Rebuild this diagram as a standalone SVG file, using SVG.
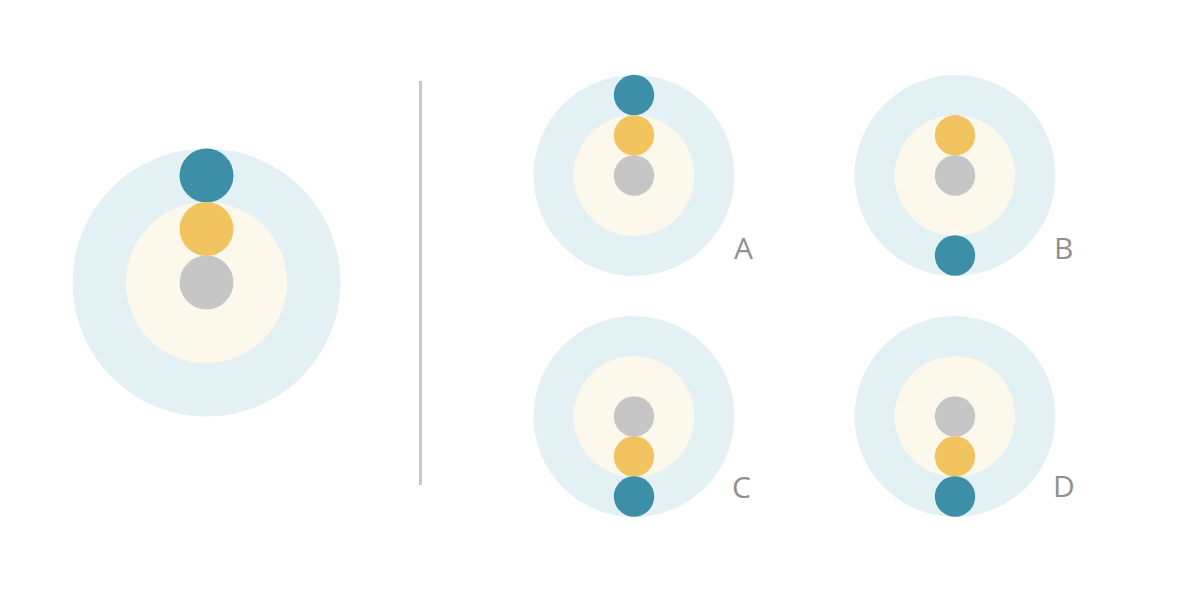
<svg xmlns="http://www.w3.org/2000/svg" width="1192" height="592" viewBox="0 0 1192 592">
  <style>
    .outer { fill: #e3f1f5; }
    .inner { fill: #fcf8ec; }
    .teal { fill: #3d8fa8; }
    .yellow { fill: #f2c45f; }
    .gray { fill: #c6c6c6; }
    .label { font-family: "Open Sans", "Liberation Sans", sans-serif; font-size: 30px; fill: #909090; }
  </style>
  <rect width="1192" height="592" fill="#ffffff"/>
  <g id="main">
    <circle class="outer" cx="206.5" cy="282.5" r="134"/>
    <circle class="inner" cx="206.5" cy="282.5" r="80.5"/>
    <circle class="teal" cx="206.5" cy="175.5" r="27"/>
    <circle class="yellow" cx="206.5" cy="229" r="27"/>
    <circle class="gray" cx="206.5" cy="282.5" r="27"/>
  </g>
  <g id="connectors">
    <line x1="420.5" y1="81" x2="420.5" y2="485" stroke="#c8c8c8" stroke-width="3"/>
  </g>
  <g id="A">
    <circle class="outer" cx="634" cy="175.5" r="100.5"/>
    <circle class="inner" cx="634" cy="175.5" r="60.3"/>
    <circle class="teal" cx="634" cy="95" r="20.2"/>
    <circle class="yellow" cx="634" cy="135.3" r="20.2"/>
    <circle class="gray" cx="634" cy="175.5" r="20.2"/>
    <text class="label" x="734" y="259">A</text>
  </g>
  <g id="B">
    <circle class="outer" cx="955" cy="175.5" r="100.5"/>
    <circle class="inner" cx="955" cy="175.5" r="60.3"/>
    <circle class="yellow" cx="955" cy="135.3" r="20.2"/>
    <circle class="gray" cx="955" cy="175.5" r="20.2"/>
    <circle class="teal" cx="955" cy="255.5" r="20.2"/>
    <text class="label" x="1054" y="259">B</text>
  </g>
  <g id="C">
    <circle class="outer" cx="634" cy="416.5" r="100.5"/>
    <circle class="inner" cx="634" cy="416.5" r="60.3"/>
    <circle class="gray" cx="634" cy="416.5" r="20.2"/>
    <circle class="yellow" cx="634" cy="456.5" r="20.2"/>
    <circle class="teal" cx="634" cy="496.5" r="20.2"/>
    <text class="label" x="732" y="498">C</text>
  </g>
  <g id="D">
    <circle class="outer" cx="955" cy="416.5" r="100.5"/>
    <circle class="inner" cx="955" cy="416.5" r="60.3"/>
    <circle class="gray" cx="955" cy="416.5" r="20.2"/>
    <circle class="yellow" cx="955" cy="456.5" r="20.2"/>
    <circle class="teal" cx="955" cy="496.5" r="20.2"/>
    <text class="label" x="1053" y="497">D</text>
  </g>
</svg>
